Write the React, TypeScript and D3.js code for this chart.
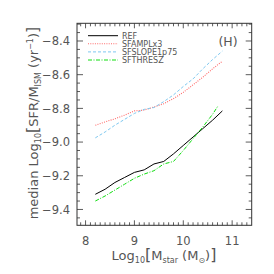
import React from "react";
import * as d3 from "d3";

const massBins = [8.2, 8.4, 8.6, 8.8, 9.0, 9.2, 9.4, 9.6, 9.8, 10.0, 10.2, 10.4, 10.6, 10.8];
const refValues = [-9.31, -9.28, -9.24, -9.21, -9.18, -9.165, -9.13, -9.115, -9.07, -9.02, -8.97, -8.92, -8.87, -8.815];
const amplValues = [-8.9, -8.88, -8.862, -8.84, -8.815, -8.81, -8.792, -8.772, -8.742, -8.705, -8.66, -8.615, -8.565, -8.52];
const slopeValues = [-8.975, -8.94, -8.9, -8.865, -8.83, -8.806, -8.795, -8.76, -8.72, -8.67, -8.625, -8.565, -8.51, -8.46];
const threshBins = [8.2, 8.4, 8.6, 8.8, 9.0, 9.2, 9.4, 9.6, 9.8, 10.0, 10.2, 10.4, 10.6, 10.7];
const threshValues = [-9.35, -9.32, -9.285, -9.25, -9.215, -9.19, -9.17, -9.13, -9.115, -9.05, -8.98, -8.91, -8.835, -8.79];

const xTicks = [8, 9, 10, 11];
const yTicks = [-9.4, -9.2, -9.0, -8.8, -8.6, -8.4];
const seriesNames = ["REF", "SFAMPLx3", "SFSLOPE1p75", "SFTHRESZ"];
const panelLabel = "(H)";

const series = [
  { name: seriesNames[0], xs: massBins, ys: refValues, color: "#000000", dash: "", width: 1 },
  { name: seriesNames[1], xs: massBins, ys: amplValues, color: "#ff6a6a", dash: "1,1.3", width: 1.1 },
  { name: seriesNames[2], xs: massBins, ys: slopeValues, color: "#7ec8f0", dash: "3,2", width: 1 },
  { name: seriesNames[3], xs: threshBins, ys: threshValues, color: "#11dd11", dash: "4,1.5,1,1.5", width: 1 },
];

const L = 77, R = 251.7, T = 23.3, B = 225.3;
const FONT = "'DejaVu Sans', sans-serif";
const TXT = "#555";
const AX = "#333";

export default function App() {
  const x = d3.scaleLinear().domain([7.825, 11.4]).range([L, R]);
  const y = d3.scaleLinear().domain([-9.494, -8.295]).range([B, T]);
  const line = d3
    .line<[number, number]>()
    .x((d) => x(d[0]))
    .y((d) => y(d[1]));

  const xMinor = d3.range(78, 115).map((v) => v / 10).filter((v) => x(v) > L + 0.5 && x(v) < R - 0.5);
  const yMinor = d3.range(-189, -165).map((v) => v / 20).filter((v) => y(v) < B - 0.5 && y(v) > T + 0.5);

  const ticks: JSX.Element[] = [];
  xMinor.forEach((v, i) => {
    const major = Math.abs(v - Math.round(v)) < 1e-6;
    const len = major ? 5 : 3;
    ticks.push(<line key={"xb" + i} x1={x(v)} x2={x(v)} y1={B} y2={B - len} stroke={AX} strokeWidth={0.8} />);
    ticks.push(<line key={"xt" + i} x1={x(v)} x2={x(v)} y1={T} y2={T + len} stroke={AX} strokeWidth={0.8} />);
  });
  yMinor.forEach((v, i) => {
    const major = Math.abs(v * 5 - Math.round(v * 5)) < 1e-6;
    const len = major ? 6 : 3;
    ticks.push(<line key={"yl" + i} x1={L} x2={L + len} y1={y(v)} y2={y(v)} stroke={AX} strokeWidth={0.8} />);
    ticks.push(<line key={"yr" + i} x1={R} x2={R - len} y1={y(v)} y2={y(v)} stroke={AX} strokeWidth={0.8} />);
  });

  const fmtY = (v: number) => (v < 0 ? "\u2212" : "") + Math.abs(v).toFixed(1);

  return (
    <svg width={274} height={274} style={{ position: "absolute", left: 0, top: 0, background: "#fff" }} fontFamily={FONT}>
      <rect x={0} y={0} width={274} height={274} fill="#fff" />
      {series.map((s) => (
        <path
          key={s.name}
          d={line(s.xs.map((v, i) => [v, s.ys[i]] as [number, number])) || ""}
          fill="none"
          stroke={s.color}
          strokeWidth={s.width}
          strokeDasharray={s.dash}
        />
      ))}
      <rect x={L} y={T} width={R - L} height={B - T} fill="none" stroke={AX} strokeWidth={1} />
      {ticks}
      {xTicks.map((v) => (
        <text key={"xl" + v} x={x(v)} y={244.5} textAnchor="middle" fontSize={11.5} fill={TXT}>
          {String(v)}
        </text>
      ))}
      {yTicks.map((v) => (
        <text key={"yl" + v} x={70} y={y(v) + 4.2} textAnchor="end" fontSize={11.5} fill={TXT}>
          {fmtY(v)}
        </text>
      ))}
      {series.map((s, i) => (
        <g key={"lg" + s.name}>
          <line
            x1={88}
            x2={118}
            y1={35.7 + i * 8.1}
            y2={35.7 + i * 8.1}
            stroke={s.color}
            strokeWidth={s.width}
            strokeDasharray={s.dash}
          />
          <text x={122} y={35.7 + i * 8.1 + 2.9} fontSize={8} fill={TXT}>
            {s.name}
          </text>
        </g>
      ))}
      <text x={228} y={45.5} textAnchor="middle" fontSize={12.5} fill={TXT}>
        {panelLabel}
      </text>
      <text x={164} y={260} textAnchor="middle" fontSize={13} fill={TXT}>
        <tspan>Log</tspan>
        <tspan fontSize={8} dy={3}>10</tspan>
        <tspan fontSize={16} dy={-3}>[</tspan>
        <tspan>M</tspan>
        <tspan fontSize={8} dy={3}>star</tspan>
        <tspan dy={-3}> (M</tspan>
        <tspan fontSize={8} dy={3}>⊙</tspan>
        <tspan dy={-3}>)</tspan>
        <tspan fontSize={16}>]</tspan>
      </text>
      <text transform="translate(38,123) rotate(-90)" textAnchor="middle" fontSize={13} fill={TXT}>
        <tspan>median Log</tspan>
        <tspan fontSize={8} dy={3}>10</tspan>
        <tspan fontSize={16} dy={-3}>[</tspan>
        <tspan>SFR/M</tspan>
        <tspan fontSize={8} dy={3}>ISM</tspan>
        <tspan dy={-3}> (yr</tspan>
        <tspan fontSize={8} dy={-5}>−1</tspan>
        <tspan dy={5}>)</tspan>
        <tspan fontSize={16}>]</tspan>
      </text>
    </svg>
  );
}
